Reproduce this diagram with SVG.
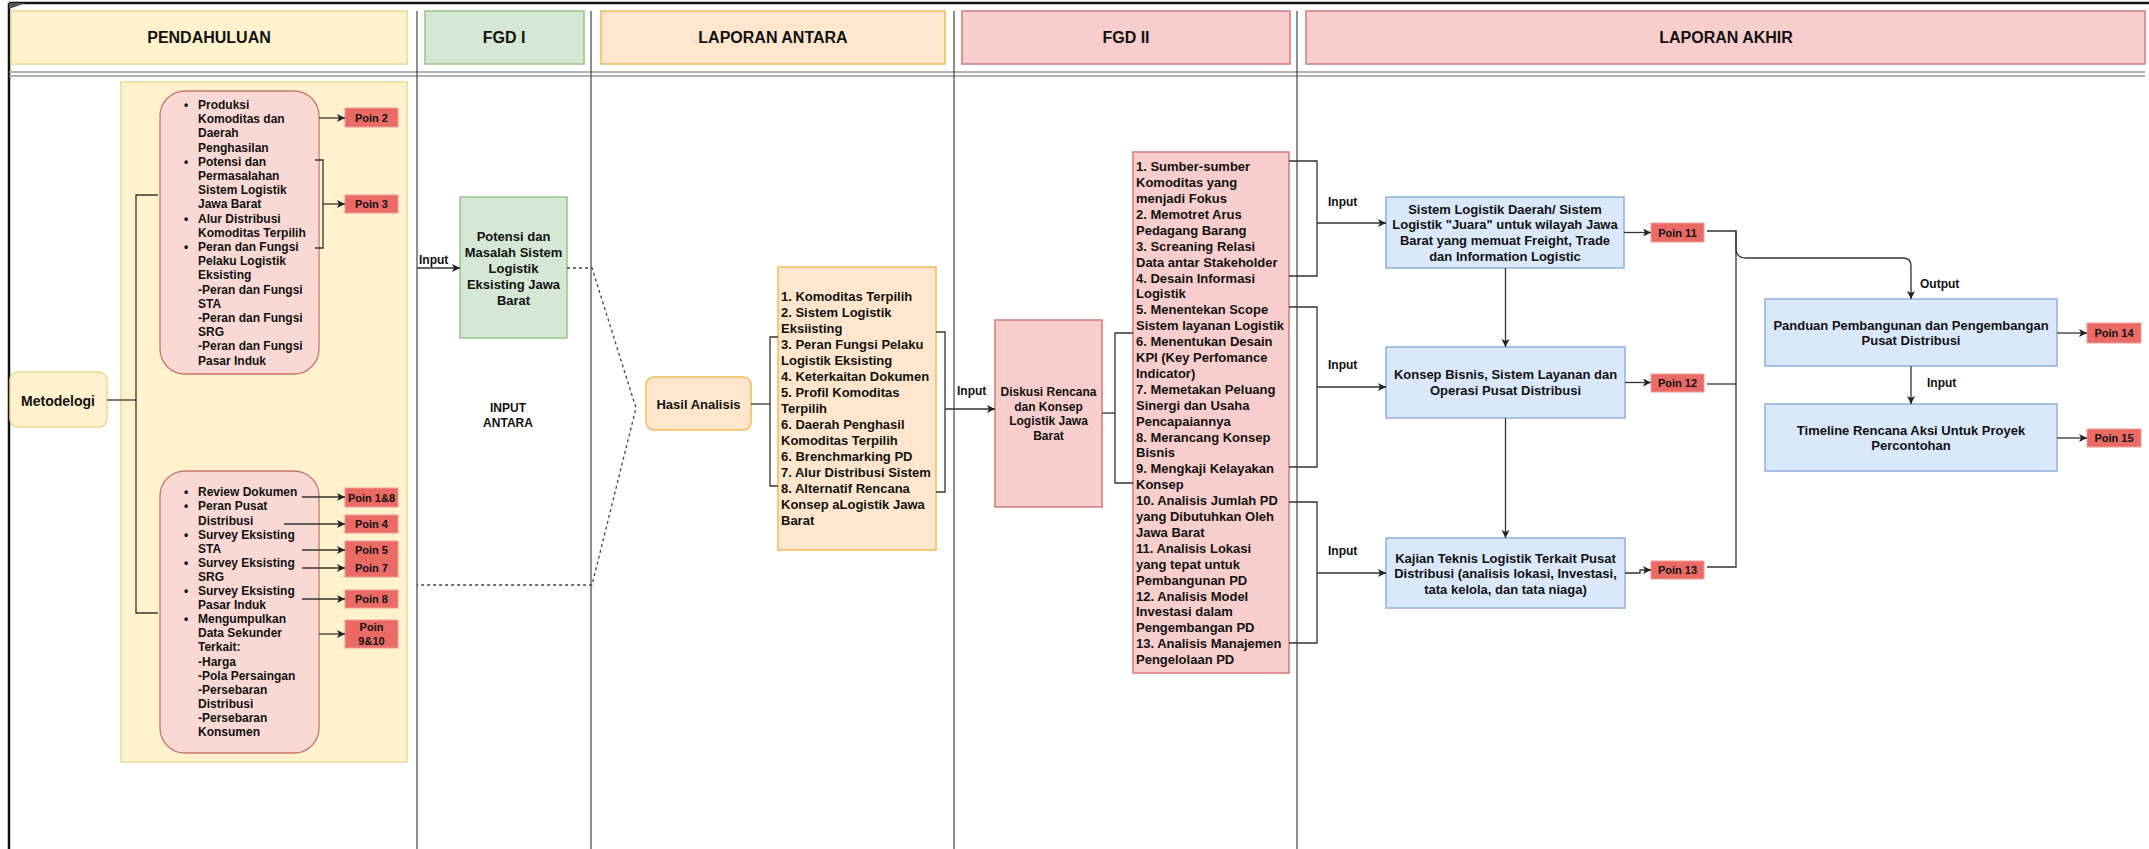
<svg xmlns="http://www.w3.org/2000/svg" width="2149" height="849" viewBox="0 0 2149 849">
<defs>
<marker id="arr" markerUnits="userSpaceOnUse" markerWidth="9" markerHeight="9" refX="8" refY="4" orient="auto">
<path d="M0,0 L8,4 L0,8 L2,4 z" fill="#222"/>
</marker>
<style>
text{font-family:"Liberation Sans",Arial,Helvetica,sans-serif;font-weight:bold;fill:#111}
.hdr{font-size:16px;text-anchor:middle}
.t12{font-size:12px}
.t13{font-size:13px}
.t14{font-size:14px}
.mid{text-anchor:middle}
.poin{font-size:11px;text-anchor:middle}
.conn{fill:none;stroke:#333;stroke-width:1.3}
.dot{fill:none;stroke:#444;stroke-width:1.3;stroke-dasharray:3 3}
.sep{stroke:#444;stroke-width:1.2}
.pbox{fill:#ea6b66;stroke:#f19c99;stroke-width:1}
.pink{fill:#fad9d5;stroke:#c8776e;stroke-width:1.3}
.blue{fill:#dae8fc;stroke:#8fb0e0;stroke-width:1.5}
.yel{fill:#fff2cc;stroke:#ecd796;stroke-width:1.5}
.org{fill:#ffe6cc;stroke:#f2bc55;stroke-width:1.5}
.red{fill:#f8cecc;stroke:#d47a78;stroke-width:1.5}
.grn{fill:#d5e8d4;stroke:#97c488;stroke-width:1.5}
</style>
</defs>
<rect x="0" y="0" width="2149" height="849" fill="#ffffff"/>

<g id="frame">
<line x1="9" y1="3" x2="2149" y2="3" stroke="#111" stroke-width="2.5"/>
<line x1="9" y1="3" x2="9" y2="849" stroke="#111" stroke-width="2.5"/>
<polygon points="9,3 26,3 9,9" fill="#555"/>
<line x1="9" y1="72" x2="2145" y2="72" stroke="#999" stroke-width="1.6"/>
<line x1="9" y1="76" x2="2145" y2="76" stroke="#999" stroke-width="1.6"/>
<line class="sep" x1="417" y1="11" x2="417" y2="849"/>
<line class="sep" x1="591" y1="11" x2="591" y2="849"/>
<line class="sep" x1="954" y1="11" x2="954" y2="849"/>
<line class="sep" x1="1297" y1="11" x2="1297" y2="849"/>
</g>

<g id="hdr-pendahuluan"><rect x="11" y="11" width="396" height="53" class="yel"/><text class="hdr" x="209" y="43">PENDAHULUAN</text></g>
<g id="hdr-fgd1"><rect x="425" y="11" width="159" height="53" class="grn"/><text class="hdr" x="504" y="43">FGD I</text></g>
<g id="hdr-antara"><rect x="601" y="11" width="344" height="53" class="org"/><text class="hdr" x="773" y="43">LAPORAN ANTARA</text></g>
<g id="hdr-fgd2"><rect x="962" y="11" width="328" height="53" class="red"/><text class="hdr" x="1126" y="43">FGD II</text></g>
<g id="hdr-akhir"><rect x="1306" y="11" width="839" height="53" class="red"/><text class="hdr" x="1726" y="43">LAPORAN AKHIR</text></g>

<g id="pendahuluan-area"><rect x="121" y="82" width="286" height="680" class="yel"/></g>

<g id="metodelogi"><rect x="10" y="372" width="97" height="55" rx="8" class="yel"/><text class="t14 mid" x="58" y="406">Metodelogi</text></g>

<g id="pink1">
<rect x="160" y="91" width="159" height="283" rx="25" class="pink"/>
<text class="t12">
<tspan x="184" y="109">•</tspan><tspan x="198" y="109">Produksi</tspan>
<tspan x="198" y="123.2">Komoditas dan</tspan>
<tspan x="198" y="137.4">Daerah</tspan>
<tspan x="198" y="151.6">Penghasilan</tspan>
<tspan x="184" y="165.8">•</tspan><tspan x="198" y="165.8">Potensi dan</tspan>
<tspan x="198" y="180">Permasalahan</tspan>
<tspan x="198" y="194.2">Sistem Logistik</tspan>
<tspan x="198" y="208.4">Jawa Barat</tspan>
<tspan x="184" y="222.6">•</tspan><tspan x="198" y="222.6">Alur Distribusi</tspan>
<tspan x="198" y="236.8">Komoditas Terpilih</tspan>
<tspan x="184" y="251">•</tspan><tspan x="198" y="251">Peran dan Fungsi</tspan>
<tspan x="198" y="265.2">Pelaku Logistik</tspan>
<tspan x="198" y="279.4">Eksisting</tspan>
<tspan x="198" y="293.6">-Peran dan Fungsi</tspan>
<tspan x="198" y="307.8">STA</tspan>
<tspan x="198" y="322">-Peran dan Fungsi</tspan>
<tspan x="198" y="336.2">SRG</tspan>
<tspan x="198" y="350.4">-Peran dan Fungsi</tspan>
<tspan x="198" y="364.6">Pasar Induk</tspan>
</text>
</g>

<g id="pink2">
<rect x="160" y="471" width="159" height="282" rx="25" class="pink"/>
<text class="t12">
<tspan x="184" y="496.3">•</tspan><tspan x="198" y="496.3">Review Dokumen</tspan>
<tspan x="184" y="510.4">•</tspan><tspan x="198" y="510.4">Peran Pusat</tspan>
<tspan x="198" y="524.5">Distribusi</tspan>
<tspan x="184" y="538.6">•</tspan><tspan x="198" y="538.6">Survey Eksisting</tspan>
<tspan x="198" y="552.7">STA</tspan>
<tspan x="184" y="566.8">•</tspan><tspan x="198" y="566.8">Survey Eksisting</tspan>
<tspan x="198" y="580.9">SRG</tspan>
<tspan x="184" y="595">•</tspan><tspan x="198" y="595">Survey Eksisting</tspan>
<tspan x="198" y="609.1">Pasar Induk</tspan>
<tspan x="184" y="623.2">•</tspan><tspan x="198" y="623.2">Mengumpulkan</tspan>
<tspan x="198" y="637.3">Data Sekunder</tspan>
<tspan x="198" y="651.4">Terkait:</tspan>
<tspan x="198" y="665.5">-Harga</tspan>
<tspan x="198" y="679.6">-Pola Persaingan</tspan>
<tspan x="198" y="693.7">-Persebaran</tspan>
<tspan x="198" y="707.8">Distribusi</tspan>
<tspan x="198" y="721.9">-Persebaran</tspan>
<tspan x="198" y="736">Konsumen</tspan>
</text>
</g>

<g id="poin2"><rect x="345" y="108" width="53" height="19" class="pbox"/><text class="poin" x="371.5" y="121.5">Poin 2</text></g>
<g id="poin3"><rect x="345" y="195" width="53" height="18" class="pbox"/><text class="poin" x="371.5" y="208">Poin 3</text></g>
<g id="poin1-8"><rect x="345" y="488" width="53" height="19" class="pbox"/><text class="poin" x="371.5" y="501.5">Poin 1&amp;8</text></g>
<g id="poin4"><rect x="345" y="515" width="53" height="18" class="pbox"/><text class="poin" x="371.5" y="528">Poin 4</text></g>
<g id="poin5-7"><rect x="345" y="541" width="53" height="36" class="pbox"/><text class="poin" x="371.5" y="554">Poin 5</text><text class="poin" x="371.5" y="572">Poin 7</text></g>
<g id="poin8"><rect x="345" y="590" width="53" height="18" class="pbox"/><text class="poin" x="371.5" y="603">Poin 8</text></g>
<g id="poin9-10"><rect x="345" y="620" width="53" height="28" class="pbox"/><text class="poin" x="371.5" y="631">Poin</text><text class="poin" x="371.5" y="645">9&amp;10</text></g>

<g id="potensi-masalah">
<rect x="460" y="197" width="107" height="141" class="grn"/>
<text class="t13 mid"><tspan x="513.5" y="240.7">Potensi dan</tspan><tspan x="513.5" y="256.7">Masalah Sistem</tspan><tspan x="513.5" y="272.7">Logistik</tspan><tspan x="513.5" y="288.7">Eksisting Jawa</tspan><tspan x="513.5" y="304.7">Barat</tspan></text>
</g>

<g id="input-antara"><text class="t12 mid"><tspan x="508" y="412">INPUT</tspan><tspan x="508" y="427">ANTARA</tspan></text></g>

<g id="hasil-analisis"><rect x="646" y="377" width="105" height="53" rx="8" class="org"/><text class="t13 mid" x="698.5" y="408.7">Hasil Analisis</text></g>

<g id="list-antara">
<rect x="778" y="267" width="158" height="283" class="org"/>
<text class="t13">
<tspan x="781" y="301.2">1. Komoditas Terpilih</tspan>
<tspan x="781" y="317.2">2. Sistem Logistik</tspan>
<tspan x="781" y="333.2">Eksiisting</tspan>
<tspan x="781" y="349.2">3. Peran Fungsi Pelaku</tspan>
<tspan x="781" y="365.2">Logistik Eksisting</tspan>
<tspan x="781" y="381.2">4. Keterkaitan Dokumen</tspan>
<tspan x="781" y="397.2">5. Profil Komoditas</tspan>
<tspan x="781" y="413.2">Terpilih</tspan>
<tspan x="781" y="429.2">6. Daerah Penghasil</tspan>
<tspan x="781" y="445.2">Komoditas Terpilih</tspan>
<tspan x="781" y="461.2">6. Brenchmarking PD</tspan>
<tspan x="781" y="477.2">7. Alur Distribusi Sistem</tspan>
<tspan x="781" y="493.2">8. Alternatif Rencana</tspan>
<tspan x="781" y="509.2">Konsep aLogistik Jawa</tspan>
<tspan x="781" y="525.2">Barat</tspan>
</text>
</g>

<g id="diskusi">
<rect x="995" y="320" width="107" height="187" class="red"/>
<text class="t12 mid"><tspan x="1048.5" y="396.3">Diskusi Rencana</tspan><tspan x="1048.5" y="410.8">dan Konsep</tspan><tspan x="1048.5" y="425.3">Logistik Jawa</tspan><tspan x="1048.5" y="439.8">Barat</tspan></text>
</g>

<g id="list-fgd2">
<rect x="1133" y="152" width="156" height="521" class="red"/>
<text class="t13">
<tspan x="1136" y="171.2">1. Sumber-sumber</tspan>
<tspan x="1136" y="187.1">Komoditas yang</tspan>
<tspan x="1136" y="203">menjadi Fokus</tspan>
<tspan x="1136" y="218.9">2. Memotret Arus</tspan>
<tspan x="1136" y="234.8">Pedagang Barang</tspan>
<tspan x="1136" y="250.7">3. Screaning Relasi</tspan>
<tspan x="1136" y="266.6">Data antar Stakeholder</tspan>
<tspan x="1136" y="282.5">4. Desain Informasi</tspan>
<tspan x="1136" y="298.4">Logistik</tspan>
<tspan x="1136" y="314.3">5. Menentekan Scope</tspan>
<tspan x="1136" y="330.2">Sistem layanan Logistik</tspan>
<tspan x="1136" y="346.1">6. Menentukan Desain</tspan>
<tspan x="1136" y="362">KPI (Key Perfomance</tspan>
<tspan x="1136" y="377.9">Indicator)</tspan>
<tspan x="1136" y="393.8">7. Memetakan Peluang</tspan>
<tspan x="1136" y="409.7">Sinergi dan Usaha</tspan>
<tspan x="1136" y="425.6">Pencapaiannya</tspan>
<tspan x="1136" y="441.5">8. Merancang Konsep</tspan>
<tspan x="1136" y="457.4">Bisnis</tspan>
<tspan x="1136" y="473.3">9. Mengkaji Kelayakan</tspan>
<tspan x="1136" y="489.2">Konsep</tspan>
<tspan x="1136" y="505.1">10. Analisis Jumlah PD</tspan>
<tspan x="1136" y="521">yang Dibutuhkan Oleh</tspan>
<tspan x="1136" y="536.9">Jawa Barat</tspan>
<tspan x="1136" y="552.8">11. Analisis Lokasi</tspan>
<tspan x="1136" y="568.7">yang tepat untuk</tspan>
<tspan x="1136" y="584.6">Pembangunan PD</tspan>
<tspan x="1136" y="600.5">12. Analisis Model</tspan>
<tspan x="1136" y="616.4">Investasi dalam</tspan>
<tspan x="1136" y="632.3">Pengembangan PD</tspan>
<tspan x="1136" y="648.2">13. Analisis Manajemen</tspan>
<tspan x="1136" y="664.1">Pengelolaan PD</tspan>
</text>
</g>

<g id="sistem-logistik">
<rect x="1386" y="197" width="238" height="71" class="blue"/>
<text class="t13 mid"><tspan x="1505" y="213.7">Sistem Logistik Daerah/ Sistem</tspan><tspan x="1505" y="229.3">Logistik "Juara" untuk wilayah Jawa</tspan><tspan x="1505" y="244.9">Barat yang memuat Freight, Trade</tspan><tspan x="1505" y="260.5">dan Information Logistic</tspan></text>
</g>
<g id="konsep-bisnis">
<rect x="1386" y="347" width="239" height="71" class="blue"/>
<text class="t13 mid"><tspan x="1505.5" y="379.4">Konsep Bisnis, Sistem Layanan dan</tspan><tspan x="1505.5" y="395">Operasi Pusat Distribusi</tspan></text>
</g>
<g id="kajian-teknis">
<rect x="1386" y="538" width="239" height="70" class="blue"/>
<text class="t13 mid"><tspan x="1505.5" y="562.6">Kajian Teknis Logistik Terkait Pusat</tspan><tspan x="1505.5" y="578.2">Distribusi (analisis lokasi, Investasi,</tspan><tspan x="1505.5" y="593.8">tata kelola, dan tata niaga)</tspan></text>
</g>
<g id="poin11"><rect x="1651" y="223" width="53" height="19" class="pbox"/><text class="poin" x="1677.5" y="236.5">Poin 11</text></g>
<g id="poin12"><rect x="1651" y="374" width="53" height="18" class="pbox"/><text class="poin" x="1677.5" y="387">Poin 12</text></g>
<g id="poin13"><rect x="1651" y="561" width="53" height="18" class="pbox"/><text class="poin" x="1677.5" y="574">Poin 13</text></g>

<g id="panduan">
<rect x="1765" y="299" width="292" height="67" class="blue"/>
<text class="t13 mid"><tspan x="1911" y="329.7">Panduan Pembangunan dan Pengembangan</tspan><tspan x="1911" y="344.7">Pusat Distribusi</tspan></text>
</g>
<g id="timeline">
<rect x="1765" y="404" width="292" height="67" class="blue"/>
<text class="t13 mid"><tspan x="1911" y="434.7">Timeline Rencana Aksi Untuk Proyek</tspan><tspan x="1911" y="449.7">Percontohan</tspan></text>
</g>
<g id="poin14"><rect x="2087" y="323" width="54" height="20" class="pbox"/><text class="poin" x="2114" y="337">Poin 14</text></g>
<g id="poin15"><rect x="2087" y="429" width="54" height="18" class="pbox"/><text class="poin" x="2114" y="442">Poin 15</text></g>

<g id="connectors">
<path class="conn" d="M107 400 H136"/>
<path class="conn" d="M158 195 H136 V613 H158"/>
<path class="conn" d="M319 118 H345" marker-end="url(#arr)"/>
<path class="conn" d="M315 160 H323 V248 H315"/>
<path class="conn" d="M323 204 H345" marker-end="url(#arr)"/>
<path class="conn" d="M302 497 H345" marker-end="url(#arr)"/>
<path class="conn" d="M284 524 H345" marker-end="url(#arr)"/>
<path class="conn" d="M302 550 H345" marker-end="url(#arr)"/>
<path class="conn" d="M302 568 H345" marker-end="url(#arr)"/>
<path class="conn" d="M302 599 H345" marker-end="url(#arr)"/>
<path class="conn" d="M319 634 H345" marker-end="url(#arr)"/>

<path class="conn" d="M417 268 H460" marker-end="url(#arr)"/>
<text class="t12" x="419" y="264">Input</text>
<path class="dot" d="M567 268 H592 L636 408 L592 585 H417"/>

<path class="conn" d="M751 404 H770"/>
<path class="conn" d="M778 337 H770 V486 H778"/>
<path class="conn" d="M936 332 H945 V492 H936"/>
<path class="conn" d="M945 409 H995" marker-end="url(#arr)"/>
<text class="t12" x="957" y="395">Input</text>

<path class="conn" d="M1102 413 H1115"/>
<path class="conn" d="M1133 333 H1115 V483 H1133"/>

<path class="conn" d="M1289 161 H1317 V276 H1289"/>
<path class="conn" d="M1317 223 H1386" marker-end="url(#arr)"/>
<text class="t12" x="1328" y="206">Input</text>
<path class="conn" d="M1289 307 H1317 V467 H1289"/>
<path class="conn" d="M1317 387 H1386" marker-end="url(#arr)"/>
<text class="t12" x="1328" y="369">Input</text>
<path class="conn" d="M1289 502 H1317 V643 H1289"/>
<path class="conn" d="M1317 573 H1386" marker-end="url(#arr)"/>
<text class="t12" x="1328" y="555">Input</text>

<path class="conn" d="M1505.5 268 V347" marker-end="url(#arr)"/>
<path class="conn" d="M1505.5 418 V538" marker-end="url(#arr)"/>
<path class="conn" d="M1624 232.5 H1651" marker-end="url(#arr)"/>
<path class="conn" d="M1625 382.5 H1651" marker-end="url(#arr)"/>
<path class="conn" d="M1625 573 H1640 V570 H1651" marker-end="url(#arr)"/>

<path class="conn" d="M1707 231 H1736 V567 H1707"/>
<path class="conn" d="M1707 384 H1736"/>
<path class="conn" d="M1736 231 V248 Q1736 258 1746 258 H1903 Q1911 258 1911 266 V299" marker-end="url(#arr)"/>
<text class="t12" x="1920" y="288">Output</text>
<path class="conn" d="M1911 366 V404" marker-end="url(#arr)"/>
<text class="t12" x="1927" y="387">Input</text>
<path class="conn" d="M2057 333 H2087" marker-end="url(#arr)"/>
<path class="conn" d="M2057 438 H2087" marker-end="url(#arr)"/>
</g>
</svg>
